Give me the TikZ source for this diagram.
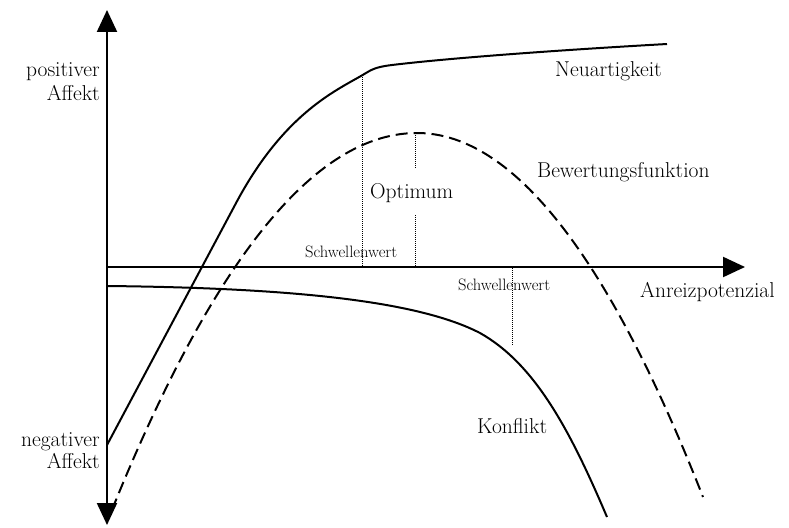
\documentclass[tikz,border=0pt]{standalone}
\usetikzlibrary{arrows.meta}
\begin{document}
\begin{tikzpicture}[x=1pt,y=-1pt,
  tip/.style={-{Triangle[length=22pt,width=20pt]}},
  axisline/.style={line width=2.2pt},
  curve/.style={line width=2pt},
  dashcurve/.style={line width=2pt, dash pattern=on 12pt off 6pt},
  dotline/.style={line width=1pt, dash pattern=on 1pt off 1pt},
  lab/.style={font=\fontsize{21.5}{24}\selectfont, inner sep=0pt},
  small/.style={font=\fontsize{16.5}{18}\selectfont, inner sep=0pt}]
\useasboundingbox (0,0) rectangle (789,527);
% axes
\coordinate (O) at (107,267);
\coordinate (ytop) at (107,10);
\coordinate (ybot) at (107,525);
\coordinate (xend) at (745,267);
\draw[axisline,{Triangle[length=22pt,width=20pt]}-{Triangle[length=22pt,width=20pt]}] (ybot) -- (ytop);
\draw[axisline,tip] (O) -- (xend);
% Neuartigkeit
\coordinate (n0) at (107,445);
\coordinate (n1) at (235,205);
\coordinate (n2) at (366,73);
\coordinate (n2b) at (392,65);
\coordinate (n3) at (667,44);
\draw[curve] (n0) -- (n1) .. controls (285,110) and (340,89) .. (n2)
  .. controls (374,68) and (380,66.5) .. (n2b)
  .. controls (450,58) and (560,50) .. (n3);
% Bewertungsfunktion
\draw[dashcurve] plot[domain=112:703, samples=120] (\x, {133+((\x<417) ? 40.5 : 44.5)*((\x-417)/100)^2});
% Konflikt
\coordinate (k0) at (107,286);
\coordinate (k1) at (480,333);
\coordinate (k2) at (607,517);
\draw[curve] (k0) .. controls (300,288) and (420,302) .. (k1)
  .. controls (535,364) and (570,430) .. (k2);
% dotted lines
\coordinate (d1t) at (362,75);
\coordinate (d1b) at (362,267);
\coordinate (d2t) at (415,133);
\coordinate (d2m) at (415,168);
\coordinate (d3t) at (415,215);
\coordinate (d3b) at (415,266);
\coordinate (d4t) at (512,268);
\coordinate (d4b) at (512,345);
\draw[dotline] (d1t) -- (d1b);
\draw[dotline] (d2t) -- (d2m);
\draw[dotline] (d3t) -- (d3b);
\draw[dotline] (d4t) -- (d4b);
% labels
\node[lab, anchor=base east] (pos1) at (100,77) {positiver};
\node[lab, anchor=base east] (pos2) at (100,100) {Affekt};
\node[lab, anchor=base east] (neg1) at (100,446) {negativer};
\node[lab, anchor=base east] (neg2) at (100,468) {Affekt};
\node[lab, anchor=base west] (neu) at (555,76) {Neuartigkeit};
\node[lab, anchor=base west] (bew) at (537,177) {Bewertungsfunktion};
\node[lab, anchor=base west] (opt) at (370,198) {Optimum};
\node[small, anchor=base west] (sw1) at (305,257) {Schwellenwert};
\node[small, anchor=base west] (sw2) at (458,290) {Schwellenwert};
\node[lab, anchor=base west] (anr) at (640,297) {Anreizpotenzial};
\node[lab, anchor=base west] (kon) at (477,433) {Konflikt};
\end{tikzpicture}
\end{document}
